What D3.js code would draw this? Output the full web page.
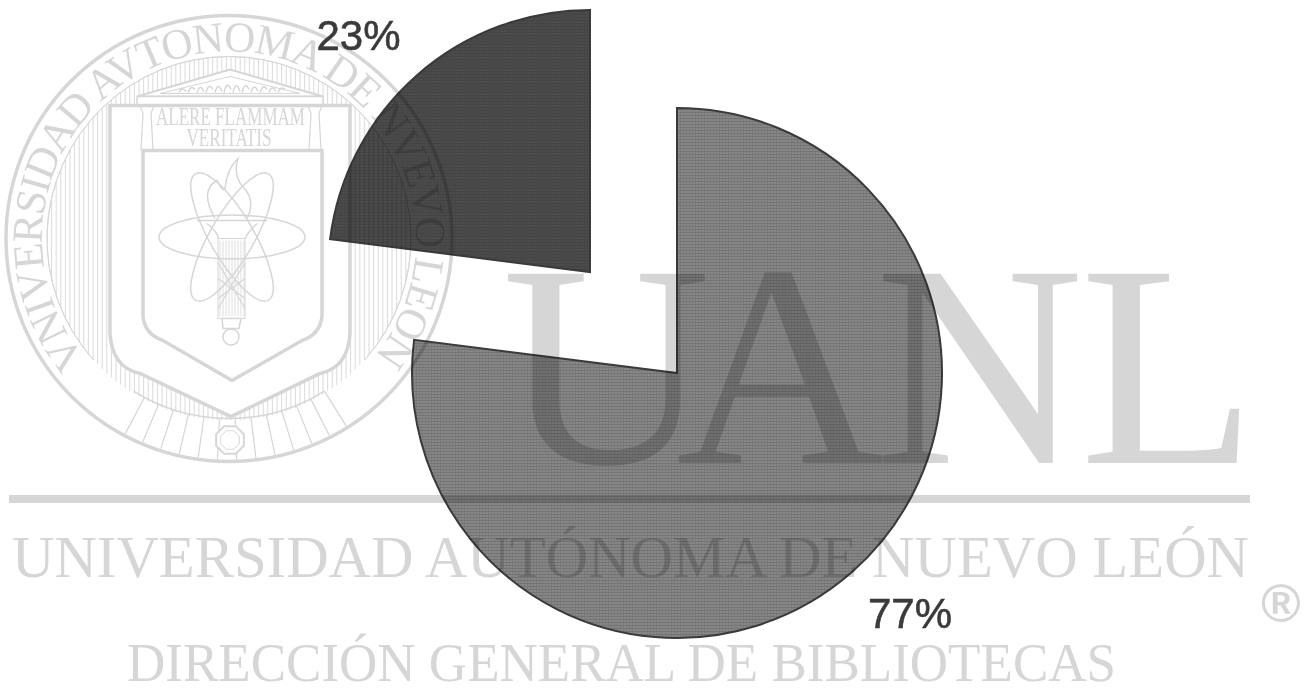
<!DOCTYPE html>
<html><head><meta charset="utf-8">
<script src="https://cdnjs.cloudflare.com/ajax/libs/d3/7.8.5/d3.min.js"></script>
<style>html,body{margin:0;background:#fff}svg{display:block}</style></head>
<body><svg id="c" width="1308" height="689"></svg>
<script>
const categories = ["A", "B"];
const values = [77, 23];
const labels = ["77%", "23%"];
const sealText = "VNIVERSIDAD AVTONOMA DE NVEVO LEON";
const wmMain = "UANL";
const wmLine1 = "UNIVERSIDAD AUTÓNOMA DE NUEVO LEÓN";
const wmLine2 = "DIRECCIÓN GENERAL DE BIBLIOTECAS";
const motto = ["ALERE FLAMMAM", "VERITATIS"];

const svg = d3.select("#c");
const wm = "#d6d6d6";
const serif = "'Liberation Serif',serif";
const sans = "'Liberation Sans',sans-serif";
const defs = svg.append("defs");

// halftone textures for the two slices
const tex = (id, base, dot, s) => {
  const p = defs.append("pattern").attr("id",id).attr("width",s).attr("height",s).attr("patternUnits","userSpaceOnUse");
  p.append("rect").attr("width",s).attr("height",s).attr("fill",base);
  p.append("rect").attr("width",s).attr("height",1).attr("fill",dot);
  p.append("rect").attr("width",1).attr("height",s).attr("fill",dot).attr("opacity",0.6);
};
tex("t0","#878787","#747474",3);
tex("t1","#4b4b4b","#444444",3);
defs.append("filter").attr("id","soft").append("feGaussianBlur").attr("stdDeviation",0.5);

// Pie
const pie = d3.pie().sort(null).value(d=>d)(values);
const anchors = [[677,373,265,"url(#t0)"],[590,272,262,"url(#t1)"]];
const arc = d3.arc().innerRadius(0);
svg.selectAll("path.slice").data(pie).join("path").attr("class","slice")
  .attr("transform",(d,i)=>`translate(${anchors[i][0]},${anchors[i][1]})`)
  .attr("d",(d,i)=>arc.outerRadius(anchors[i][2])(d))
  .attr("fill",(d,i)=>anchors[i][3]).attr("stroke","#3a3a3a").attr("stroke-width",2);

// Watermark layer, multiplied over the pie
const layer = svg.append("g").style("mix-blend-mode","multiply");

// Seal
const cx = 229, cy = 238.5;
const seal = layer.append("g").attr("transform",`translate(${cx},${cy})`).attr("fill","none").attr("stroke",wm).attr("stroke-width",2);
defs.append("clipPath").attr("id","inner").append("circle").attr("r",182);
const hatch = seal.append("g").attr("clip-path","url(#inner)").attr("stroke-width",0.9);
hatch.selectAll("line").data(d3.range(-182,183,4.6)).join("line")
  .attr("x1",d=>d).attr("x2",d=>d).attr("y1",-182).attr("y2",182);
const rad = d3.range(148,212.1,5);
seal.selectAll("line.r").data(rad).join("line").attr("class","r").attr("stroke-width",1.2)
  .attr("x1",d=>180*Math.sin(d*Math.PI/180)).attr("y1",d=>-180*Math.cos(d*Math.PI/180))
  .attr("x2",d=>221*Math.sin(d*Math.PI/180)).attr("y2",d=>-221*Math.cos(d*Math.PI/180));
seal.append("circle").attr("r",223).attr("stroke-width",3.5);
seal.append("path").attr("d",d3.arc().innerRadius(182).outerRadius(182).startAngle(-2.3).endAngle(2.3)()).attr("stroke-width",1);
seal.append("path").attr("d",d3.arc().innerRadius(180).outerRadius(180).startAngle(2.58).endAngle(3.7)()).attr("stroke-width",1.5);

const shield = (l,r,t,yc,xi,yi,b,bx) => {
  const p = d3.path();
  p.moveTo(l,t); p.lineTo(r,t); p.lineTo(r,yc);
  p.quadraticCurveTo(r-2,yi-6,r-xi,yi); p.lineTo(bx,b);
  p.lineTo(l+xi,yi); p.quadraticCurveTo(l+2,yi-6,l,yc); p.closePath();
  return p.toString();
};
seal.append("path").attr("d",shield(-119,121,-133,95,30,135,178,2)).attr("fill","#fff").attr("stroke-width",3.5);
seal.append("path").attr("d",shield(-86,93,-88,78,20,102,142,3)).attr("stroke-width",3.5);

// Temple
const tri = (w,t,b) => { const p=d3.path(); p.moveTo(-w+1,b); p.lineTo(1,t); p.lineTo(w+1,b); p.closePath(); return p.toString(); };
seal.append("path").attr("d",tri(93,-169,-142)).attr("fill","#fff").attr("stroke-width",2);
seal.append("path").attr("d",tri(70,-162,-145)).attr("stroke-width",1);
const frieze = d3.path();
d3.range(-50,52,9).forEach((x,i)=>{ const h=7+(50-Math.abs(x))*0.13; frieze.moveTo(x,-146); frieze.quadraticCurveTo(x+3,-146-h,x+7,-147-(i%2)*2); });
seal.append("path").attr("d",frieze.toString()).attr("stroke-width",1.5);
seal.append("rect").attr("x",-92).attr("y",-142).attr("width",186).attr("height",8).attr("fill","#fff").attr("stroke-width",1.5);
[-82,86].forEach(x=>{
  seal.append("path").attr("stroke-width",1.2)
    .attr("d",`M ${x-7} -133 L ${x+7} -133 L ${x+4} -125 L ${x+6} -89 L ${x-6} -89 L ${x-4} -125 Z`);
});
seal.selectAll("text.m").data(motto).join("text").attr("class","m").attr("fill",wm).attr("stroke","none")
  .attr("text-anchor","middle").attr("y",(d,i)=>i?-92.5:-113.5).attr("x",(d,i)=>i?0:1.5).style("font",`25px ${serif}`)
  .attr("textLength",(d,i)=>i?85:149).attr("lengthAdjust","spacingAndGlyphs").text(d=>d);

// Atom + torch
const atom = seal.append("g").attr("stroke-width",1.5);
[0,60,120].forEach(a=>atom.append("ellipse").attr("cx",3).attr("cy",-1.5).attr("rx",73).attr("ry",22).attr("transform",`rotate(${a} 3 -1.5)`));
const torch = seal.append("g").attr("stroke-width",1.5);
torch.append("path").attr("d","M -32 -18 L 38 -18 M -22 -15 Q -10 -5 -11 0 M 28 -15 Q 18 -5 16 0");
torch.append("path").attr("d","M -14 -20 Q -30 -48 -12 -58 Q -6 -46 -4 -50 Q -2 -70 9 -80 Q 3 -62 17 -48 Q 26 -36 18 -20");
torch.append("rect").attr("x",-11).attr("y",0).attr("width",27).attr("height",80).attr("stroke-width",1);
const bands = torch.append("g").attr("stroke-width",0.8);
bands.selectAll("line").data(d3.range(-9,16,3)).join("line").attr("x1",d=>d).attr("x2",d=>d).attr("y1",2).attr("y2",78);
torch.append("path").attr("d","M -11 24 L 16 70 M 16 24 L -11 70 M -11 40 L 16 60 M 16 40 L -11 60").attr("stroke-width",1.2);
torch.append("path").attr("d","M -7 80 L 12 80 L 10 90 L -6 90 Z");
torch.append("circle").attr("cx",2).attr("cy",98.5).attr("r",8);
const octagon = r => d3.range(0,8).map(i=>[r*Math.cos((i+.5)*Math.PI/4)+1, r*Math.sin((i+.5)*Math.PI/4)+201.5]);
torch.append("path").attr("d",d3.line()(octagon(15))+"Z").attr("fill","#fff").attr("stroke-width",2);
torch.append("path").attr("d",d3.line()(octagon(10))+"Z").attr("stroke-width",1);

// Seal ring text
seal.append("path").attr("id","sealArc").attr("stroke","none")
  .attr("d",d3.arc().innerRadius(187).outerRadius(187).startAngle(-130*Math.PI/180).endAngle(130*Math.PI/180)());
seal.append("text").attr("fill",wm).attr("stroke","none").style("font",`43px ${serif}`)
  .append("textPath").attr("href","#sealArc").attr("textLength",845).text(sealText);

// Big watermark text
const big = layer.append("g").attr("fill",wm).style("font-family",serif);
big.append("text").attr("x","502 676 875 1080").attr("y",463).style("font-size","289px").text(wmMain);
big.append("rect").attr("x",9).attr("y",495).attr("width",1241).attr("height",8);
big.append("text").attr("x",12).attr("y",577).attr("textLength",1237).attr("lengthAdjust","spacingAndGlyphs").style("font-size","60px").text(wmLine1);
big.append("text").attr("x",127).attr("y",681).attr("textLength",989).attr("lengthAdjust","spacingAndGlyphs").style("font-size","55px").text(wmLine2);
layer.append("text").attr("x",1281).attr("y",622).attr("text-anchor","middle").attr("fill",wm).style("font",`bold 54px ${sans}`).text("®");

// Percent labels
svg.selectAll("text.lab").data(labels).join("text").attr("class","lab")
  .attr("x",(d,i)=>i?358.5:910).attr("y",(d,i)=>i?50:628).attr("text-anchor","middle")
  .attr("fill","#3a3a3a").attr("stroke","#3a3a3a").attr("stroke-width",0.6).attr("filter","url(#soft)")
  .style("font",`42px ${sans}`).text(d=>d);
</script></body></html>
